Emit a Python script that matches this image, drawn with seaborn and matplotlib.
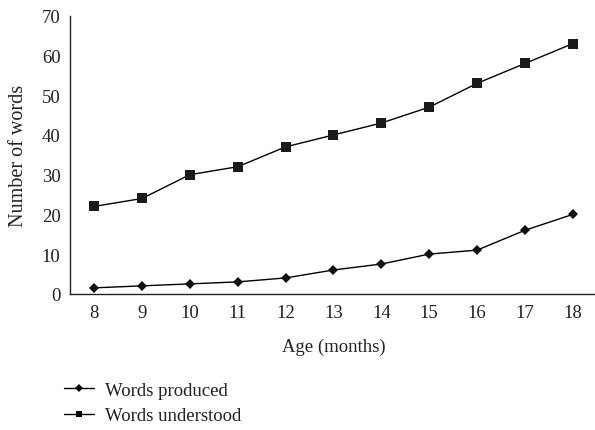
import matplotlib
matplotlib.use("Agg")
import matplotlib.pyplot as plt
import seaborn as sns
import pandas as pd
from matplotlib.lines import Line2D

ages = [8, 9, 10, 11, 12, 13, 14, 15, 16, 17, 18]
words_produced = [1.5, 2, 2.5, 3, 4, 6, 7.5, 10, 11, 16, 20]
words_understood = [22, 24, 30, 32, 37, 40, 43, 47, 53, 58, 63]
series_names = ["Words produced", "Words understood"]
y_ticks = [0, 10, 20, 30, 40, 50, 60, 70]

sns.set_theme(style="ticks")
plt.rcParams['font.family'] = ['Liberation Serif', 'DejaVu Serif']

df = pd.DataFrame({
    "pos": list(range(len(ages))) * 2,
    "value": words_produced + words_understood,
    "series": [series_names[0]] * len(ages) + [series_names[1]] * len(ages),
})

FS = 13.5
fig = plt.figure(figsize=(5.95, 4.31), dpi=100)
ax = fig.add_axes([0.118, 0.316, 0.885, 0.645])

sns.lineplot(data=df[df.series == series_names[0]], x="pos", y="value",
             color="black", linewidth=1.0, marker="D", markersize=4.8,
             markeredgewidth=0, markerfacecolor="#111111", ax=ax, legend=False)
sns.lineplot(data=df[df.series == series_names[1]], x="pos", y="value",
             color="black", linewidth=1.0, marker="s", markersize=6.5,
             markeredgewidth=0, markerfacecolor="#1a1a1a", ax=ax, legend=False)

ax.set_xlim(-0.5, len(ages) - 0.5)
ax.set_ylim(0, 70)
ax.set_xticks(range(len(ages)))
ax.set_xticklabels([str(a) for a in ages])
ax.set_yticks(y_ticks)
ax.tick_params(axis="both", length=0, labelsize=FS, colors="#222222", pad=7)
ax.tick_params(axis="x", pad=7)
ax.set_xlabel("Age (months)", fontsize=FS, color="#222222", labelpad=12)
ax.set_ylabel("Number of words", fontsize=14.5, color="#222222", labelpad=10)
sns.despine(ax=ax)
for s in ["left", "bottom"]:
    ax.spines[s].set_color("#222222")
    ax.spines[s].set_linewidth(1.0)

handles = [
    Line2D([0], [0], color="black", lw=1.0, marker="D", markersize=3.8, markeredgewidth=0),
    Line2D([0], [0], color="black", lw=1.0, marker="s", markersize=5, markeredgewidth=0),
]
fig.legend(handles, series_names, loc="upper left", bbox_to_anchor=(0.108, 0.112),
           bbox_transform=fig.transFigure, frameon=False, fontsize=FS,
           handlelength=1.6, handletextpad=0.55, labelspacing=0.45,
           borderaxespad=0, borderpad=0)
for t in fig.legends[0].get_texts():
    t.set_color("#222222")

fig.savefig("out.png", dpi=100)
